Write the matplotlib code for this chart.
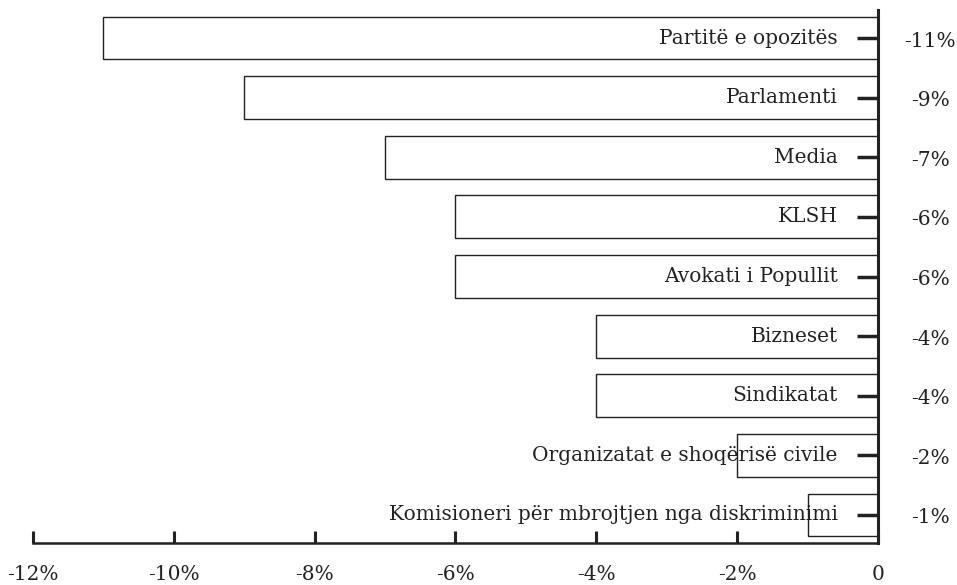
import matplotlib
matplotlib.use('Agg')
import matplotlib.pyplot as plt

# institutions, top to bottom, with change in trust (%)
categories = [
    'Partitë e opozitës',
    'Parlamenti',
    'Media',
    'KLSH',
    'Avokati i Popullit',
    'Bizneset',
    'Sindikatat',
    'Organizatat e shoqërisë civile',
    'Komisioneri për mbrojtjen nga diskriminimi',
]
values = [-11, -9, -7, -6, -6, -4, -4, -2, -1]
value_labels = ['-11%', '-9%', '-7%', '-6%', '-6%', '-4%', '-4%', '-2%', '-1%']
xticks = [-12, -10, -8, -6, -4, -2, 0]
xtick_labels = ['-12%', '-10%', '-8%', '-6%', '-4%', '-2%', '0']

plt.rcParams['font.family'] = ['DejaVu Serif']
INK = '#222222'
FS = 14.5

fig = plt.figure(figsize=(9.57, 5.85), dpi=100)
ax = fig.add_axes([33 / 957, 42 / 585, (878 - 33) / 957, (575 - 42) / 585])

n = len(categories)
ypos = [n - 1 - i for i in range(n)]
ax.barh(ypos, values, height=0.72, color='white', edgecolor=INK, linewidth=1.0)

for y, cat, lab in zip(ypos, categories, value_labels):
    ax.text(-0.57, y, cat, ha='right', va='center', fontsize=FS, color=INK)
    ax.text(0.74, y - 0.05, lab, ha='center', va='center', fontsize=FS, color=INK,
            clip_on=False)

ax.set_xlim(-12, 0)
ax.set_ylim(-0.47, n - 1 + 0.47)

for s in ['top', 'left']:
    ax.spines[s].set_visible(False)
ax.spines['right'].set_linewidth(2.2)
ax.spines['bottom'].set_linewidth(1.8)
ax.spines['right'].set_color(INK)
ax.spines['bottom'].set_color(INK)

ax.yaxis.tick_right()
ax.set_yticks(ypos)
ax.set_yticklabels([])
ax.tick_params(axis='y', direction='in', length=15, width=2.5, color=INK)

ax.set_xticks(xticks)
ax.set_xticklabels(xtick_labels)
ax.tick_params(axis='x', direction='in', length=9, width=2.2, color=INK,
               labelsize=FS, labelcolor=INK, pad=16)

fig.savefig('out.png', dpi=100)
